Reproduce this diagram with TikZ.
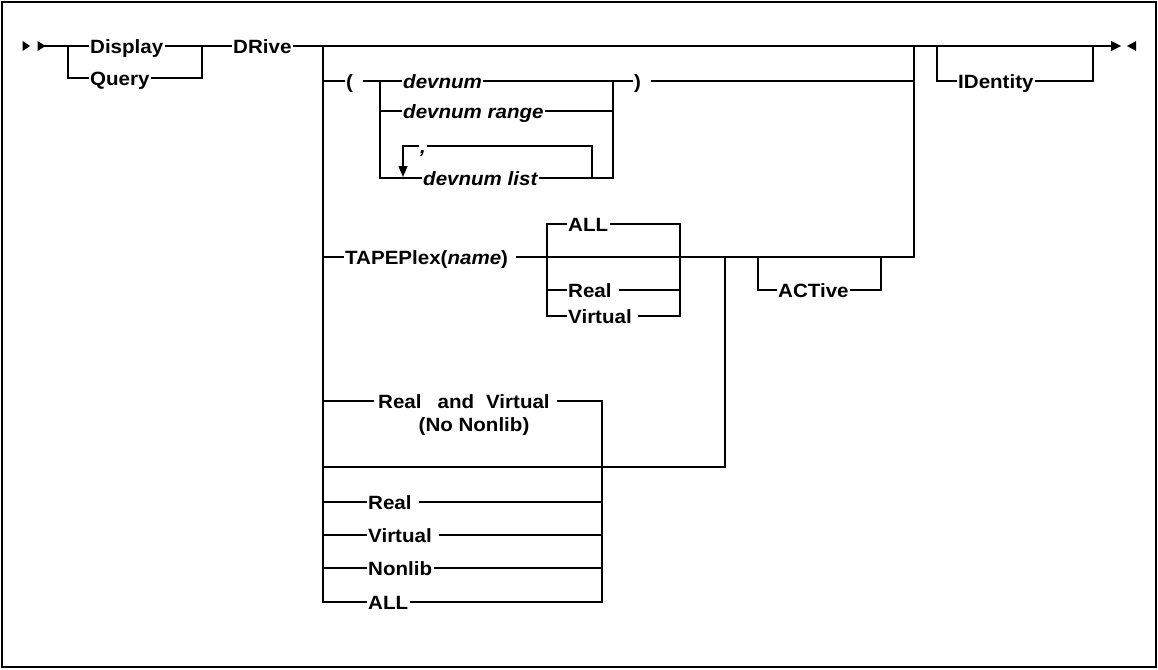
\documentclass[tikz,border=0pt]{standalone}
\usepackage{fontspec}
\newfontfamily\dfont[FakeStretch=1.07]{Liberation Sans}
\usetikzlibrary{arrows.meta}
\newcommand\kwf{\dfont\bfseries\fontsize{19.2}{22}\selectfont}
\newcommand\varf{\dfont\bfseries\itshape\fontsize{19.2}{22}\selectfont}
\tikzset{
  kw/.style={font=\kwf, inner xsep=2pt, inner ysep=0pt, text height=14pt, text depth=0pt, anchor=west},
  var/.style={kw, font=\varf},
  rail/.style={line width=1.4pt, line cap=rect, line join=miter},
  tip/.style={fill=black, draw=none}
}
\begin{document}
\begin{tikzpicture}[x=1pt,y=-1pt]
\useasboundingbox (0,0) rectangle (1158,669);
\draw[line width=1.5pt] (2,2) rectangle (1156,667);

% start / end marks
\coordinate (s) at (45,46);
\coordinate (e) at (1111,46);
\fill[tip] (22.5,41) -- (30,46) -- (22.5,51) -- cycle;
\fill[tip] (37.5,41) -- (45.5,46) -- (37.5,51) -- cycle;
\fill[tip] (1111,41) -- (1121,46) -- (1111,51) -- cycle;
\fill[tip] (1136,41) -- (1127,46) -- (1136,51) -- cycle;

% command
\node[kw] (disp) at (88,46) {Display};
\node[kw] (qry) at (88,78) {Query};
\node[kw] (drv) at (231,46) {DRive};
\coordinate (a1) at (68,46);
\coordinate (b1) at (202,46);
\draw[rail] (s) -- (disp.west);
\draw[rail] (a1) |- (qry.west);
\draw[rail] (qry.east) -| (b1);
\draw[rail] (disp.east) -- (drv.west);
\draw[rail] (drv.east) -- (e);

% main branch column
\coordinate (c0) at (323,46);
\coordinate (c9) at (323,602);
\draw[rail] (c0) -- (c9);

% ( devnum ... )
\node[kw] (lp) at (344,81) {(\kern8pt};
\node[var] (dv1) at (401,81) {devnum};
\node[var] (dvr) at (401,111) {devnum range};
\node[var] (cm) at (418,146) {,};
\node[var] (dvl) at (421,178) {devnum list};
\node[kw] (rp) at (632,81) {)\kern8pt};
\coordinate (d0) at (380,81);
\coordinate (d3) at (380,178);
\coordinate (f0) at (613,81);
\coordinate (f3) at (613,178);
\coordinate (g0) at (914,46);
\coordinate (g1) at (914,257);
\draw[rail] (c0 |- lp.west) -- (lp.west);
\draw[rail] (lp.east) -- (dv1.west);
\draw[rail] (d0) -- (d3) -- (dvl.west);
\draw[rail] (d0 |- dvr.west) -- (dvr.west);
\draw[rail] (dv1.east) -- (f0) -- (rp.west);
\draw[rail] (dvr.east) -- (f0 |- dvr.west);
\draw[rail] (dvl.east) -- (f3) -- (f0);
\draw[rail] (rp.east) -- (g0 |- rp.east);
\coordinate (lp1) at (403,146);
\coordinate (lp2) at (592,146);
\coordinate (lp3) at (592,178);
\draw[rail] (cm.east) -- (lp2) -- (lp3);
\draw[rail, -{Triangle[width=9pt,length=11pt]}] (cm.west) -- (lp1) -- (403,177);
\draw[rail] (g0) -- (g1);

% TAPEPlex
\node[kw] (tp) at (343,257) {TAPEPlex(\textit{name})\kern6pt};
\node[kw] (tall) at (566,224) {ALL};
\node[kw] (treal) at (566,290) {Real\kern6pt};
\node[kw] (tvirt) at (566,316) {Virtual\kern5pt};
\coordinate (h0) at (547,224);
\coordinate (h1) at (547,316);
\coordinate (k0) at (680,224);
\coordinate (k1) at (680,316);
\draw[rail] (c0 |- tp.west) -- (tp.west);
\draw[rail] (tp.east) -- (g1);
\draw[rail] (tall.west) -- (h0) -- (h1) -- (tvirt.west);
\draw[rail] (h0 |- treal.west) -- (treal.west);
\draw[rail] (tall.east) -- (k0) -- (k1) -- (tvirt.east);
\draw[rail] (treal.east) -- (k0 |- treal.east);

% ACTive
\node[kw] (act) at (776,290) {ACTive};
\coordinate (m0) at (758,257);
\coordinate (m1) at (881,257);
\draw[rail] (m0) |- (act.west);
\draw[rail] (act.east) -| (m1);

% loop back
\coordinate (n0) at (725,257);
\coordinate (n1) at (725,467);
\draw[rail] (n0) -- (n1) -- (c0 |- n1);

% IDentity
\node[kw] (ide) at (956,81) {IDentity};
\coordinate (p0) at (937,46);
\coordinate (p1) at (1093,46);
\draw[rail] (p0) |- (ide.west);
\draw[rail] (ide.east) -| (p1);

% bottom block
\node[kw] (rv1) at (376,401) {Real\hspace{16pt}and\hspace{12pt}Virtual\kern6pt};
\node[kw, anchor=center] (rv2) at (474,424) {(No Nonlib)};
\node[kw] (breal) at (366,502) {Real\kern6pt};
\node[kw] (bvirt) at (366,535) {Virtual\kern6pt};
\node[kw] (bnon) at (366,568) {Nonlib};
\node[kw] (ball) at (366,602) {ALL};
\coordinate (q0) at (602,401);
\coordinate (q1) at (602,602);
\draw[rail] (c0 |- rv1.west) -- ([xshift=-3pt]rv1.west);
\draw[rail] (rv1.east) -- (q0) -- (q1) -- (ball.east);
\draw[rail] (c9) -- (ball.west);
\draw[rail] (c0 |- breal.west) -- (breal.west);
\draw[rail] (c0 |- bvirt.west) -- (bvirt.west);
\draw[rail] (c0 |- bnon.west) -- (bnon.west);
\draw[rail] (breal.east) -- (q0 |- breal.east);
\draw[rail] (bvirt.east) -- (q0 |- bvirt.east);
\draw[rail] (bnon.east) -- (q0 |- bnon.east);
\end{tikzpicture}
\end{document}
